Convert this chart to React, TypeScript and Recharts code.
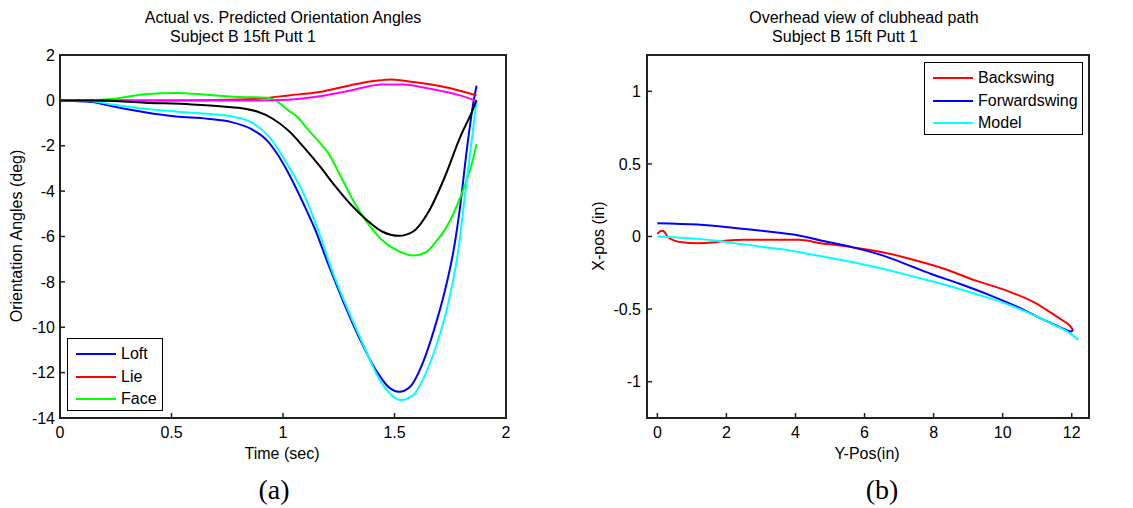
import { LineChart, Line, XAxis, YAxis, Legend } from "recharts";

const FONT = "'Liberation Sans', Arial, Helvetica, sans-serif";

// (a) orientation angles: [time (sec), angle (deg)]
const loftActual = [
  [0, 0], [0.143, -0.07], [0.24, -0.27], [0.38, -0.52], [0.52, -0.71], [0.66, -0.81],
  [0.77, -0.96], [0.857, -1.26], [0.927, -1.75], [0.97, -2.3], [1.024, -3.2], [1.094, -4.6],
  [1.14, -5.6], [1.206, -7.3], [1.276, -9.0], [1.346, -10.55], [1.416, -11.88],
  [1.472, -12.62], [1.521, -12.84], [1.57, -12.62], [1.626, -11.59], [1.682, -9.96],
  [1.724, -8.47], [1.766, -6.55], [1.794, -4.7], [1.824, -2.2], [1.852, -0.2], [1.868, 0.65],
];
const lieActual = [
  [0, 0], [0.5, 0], [0.8, 0.04], [0.884, 0.07], [1.024, 0.22], [1.164, 0.37], [1.304, 0.67],
  [1.416, 0.86], [1.486, 0.92], [1.584, 0.81], [1.724, 0.59], [1.868, 0.22],
];
const faceActual = [
  [0, 0], [0.1, 0], [0.24, 0.07], [0.38, 0.27], [0.52, 0.33], [0.66, 0.25], [0.8, 0.15],
  [0.93, 0.12], [0.966, 0], [1.024, -0.44], [1.066, -0.74], [1.11, -1.26], [1.164, -1.85],
  [1.206, -2.37], [1.262, -3.41], [1.325, -4.59], [1.374, -5.33], [1.444, -6.15],
  [1.514, -6.62], [1.584, -6.84], [1.64, -6.7], [1.696, -6.1], [1.738, -5.5], [1.794, -4.3],
  [1.85, -2.67], [1.868, -1.93],
];
const loftModel = [
  [0, 0], [0.12, -0.02], [0.24, -0.19], [0.38, -0.37], [0.52, -0.49], [0.66, -0.59],
  [0.77, -0.71], [0.857, -0.96], [0.94, -1.63], [1.024, -2.89], [1.094, -4.15],
  [1.164, -5.9], [1.22, -7.5], [1.29, -9.2], [1.36, -10.77], [1.43, -12.25],
  [1.486, -12.99], [1.528, -13.21], [1.584, -12.99], [1.64, -12.03], [1.696, -10.55],
  [1.738, -9.07], [1.787, -6.55], [1.824, -3.5], [1.85, -1.48], [1.868, 0],
];
const lieModel = [
  [0, 0], [0.884, 0], [1.024, 0.03], [1.164, 0.18], [1.304, 0.44], [1.444, 0.7],
  [1.54, 0.7], [1.654, 0.52], [1.794, 0.22], [1.868, -0.03],
];
const faceModel = [
  [0, 0], [0.17, 0], [0.38, -0.1], [0.59, -0.18], [0.73, -0.27], [0.83, -0.37],
  [0.884, -0.49], [0.954, -0.81], [1.024, -1.33], [1.094, -2.07], [1.164, -2.89],
  [1.234, -3.78], [1.304, -4.59], [1.374, -5.26], [1.444, -5.78], [1.521, -5.97],
  [1.584, -5.78], [1.654, -4.89], [1.724, -3.41], [1.794, -1.63], [1.85, -0.44], [1.868, 0],
];

// (b) clubhead path: [Y-pos (in), X-pos (in)]
const backswing = [
  [0, 0.018], [0.08, 0.035], [0.16, 0.04], [0.24, 0.02], [0.31, -0.005], [0.71, -0.04],
  [1.16, -0.046], [1.6, -0.041], [2.05, -0.027], [2.5, -0.023], [4.1, -0.023], [4.73, -0.046],
  [5.63, -0.073], [6.52, -0.108], [7.41, -0.16], [8.3, -0.222], [9.2, -0.302], [10.09, -0.371],
  [10.98, -0.462], [11.43, -0.53], [11.75, -0.58], [11.95, -0.615], [12.04, -0.645],
];
const forwardswing = [
  [0, 0.092], [1.16, 0.082], [2.05, 0.064], [2.95, 0.041], [4.1, 0.007], [4.73, -0.027],
  [5.63, -0.073], [6.52, -0.13], [7.41, -0.21], [7.95, -0.26], [8.75, -0.325], [9.64, -0.405],
  [10.54, -0.497], [10.98, -0.55], [11.43, -0.6], [11.8, -0.64], [11.98, -0.655],
  [12.04, -0.645],
];
const pathModel = [
  [0, 0], [1.16, -0.016], [2.05, -0.039], [2.95, -0.069], [3.84, -0.096], [4.73, -0.135],
  [5.63, -0.176], [6.52, -0.222], [7.41, -0.275], [8.3, -0.33], [9.2, -0.394], [10.09, -0.462],
  [10.98, -0.55], [11.5, -0.61], [11.95, -0.667], [12.2, -0.713],
];

const timeTicks = [0, 0.5, 1, 1.5, 2];
const angleTicks = [2, 0, -2, -4, -6, -8, -10, -12, -14];
const yPosTicks = [0, 2, 4, 6, 8, 10, 12];
const xPosTicks = [1, 0.5, 0, -0.5, -1];

const anglesLegend = ["Loft", "Lie", "Face"];
const pathLegend = ["Backswing", "Forwardswing", "Model"];

const toPoints = (pts: number[][]) => pts.map(([a, b]) => ({ a, b }));

const tickStyle = { fill: "#000", fontSize: 16, fontFamily: FONT };
const tickLineStyle = { stroke: "#222", strokeWidth: 1.5 };

function BoxLegend({ payload, width, order }: any) {
  const items = (payload || [])
    .filter((p: any) => order.includes(p.value))
    .sort((p: any, q: any) => order.indexOf(p.value) - order.indexOf(q.value));
  return (
    <div
      style={{
        boxSizing: "border-box",
        width,
        height: 73,
        border: "1.5px solid #000",
        background: "#fff",
        padding: "4px 0 0 8px",
        fontFamily: FONT,
        fontSize: 16,
        color: "#000",
      }}
    >
      {items.map((p: any) => (
        <div key={p.value} style={{ display: "flex", alignItems: "center", height: 22.5 }}>
          <span style={{ display: "inline-block", width: 40, borderTop: `2px solid ${p.color}`, marginRight: 5 }} />
          <span>{p.value}</span>
        </div>
      ))}
    </div>
  );
}

function Text({ x, y, w = 400, children, size = 16, serif = false }: any) {
  return (
    <div
      style={{
        position: "absolute",
        left: x - w / 2,
        top: y,
        width: w,
        textAlign: "center",
        fontFamily: serif ? "'Liberation Serif', 'Times New Roman', serif" : FONT,
        fontSize: size,
        lineHeight: serif ? "28px" : "20px",
        color: "#000",
        whiteSpace: "nowrap",
      }}
    >
      {children}
    </div>
  );
}

function VText({ x, y, children }: any) {
  return (
    <div
      style={{
        position: "absolute",
        left: x - 150,
        top: y - 10,
        width: 300,
        height: 20,
        lineHeight: "20px",
        textAlign: "center",
        fontFamily: FONT,
        fontSize: 16,
        color: "#000",
        transform: "rotate(-90deg)",
        whiteSpace: "nowrap",
      }}
    >
      {children}
    </div>
  );
}

// plot frame (MATLAB "box on"), drawn over the plot area
function Box({ left, width }: any) {
  return (
    <div
      style={{
        position: "absolute",
        left: left - 1,
        top: 54,
        width: width + 1,
        height: 365,
        boxSizing: "border-box",
        border: "2px solid #222",
        pointerEvents: "none",
      }}
    />
  );
}

function line(data: number[][], name: string, color: string) {
  return (
    <Line
      key={name}
      data={toPoints(data)}
      dataKey="b"
      name={name}
      type="monotone"
      stroke={color}
      strokeWidth={2}
      dot={false}
      activeDot={false}
      isAnimationActive={false}
    />
  );
}

function AnglesChart() {
  return (
    <LineChart width={560} height={508} margin={{ top: 55, right: 54, bottom: 60, left: 0 }}>
      <XAxis type="number" dataKey="a" domain={[0, 2]} ticks={timeTicks} interval={0} allowDataOverflow
        height={30} stroke="#222" strokeWidth={2} tickLine={tickLineStyle} tickSize={-5} tickMargin={14} tick={tickStyle} />
      <YAxis type="number" domain={[-14, 2]} ticks={angleTicks} interval={0} allowDataOverflow
        width={60} stroke="#222" strokeWidth={2} tickLine={tickLineStyle} tickSize={-5} tickMargin={10} tick={tickStyle} />
      {line(loftActual, "Loft", "#0000ff")}
      {line(lieActual, "Lie", "#ff0000")}
      {line(faceActual, "Face", "#00ff00")}
      {line(loftModel, "Loft model", "#00ffff")}
      {line(lieModel, "Lie model", "#ff00ff")}
      {line(faceModel, "Face model", "#000000")}
      <Legend layout="vertical" align="center" verticalAlign="middle"
        wrapperStyle={{ left: 67, top: 338, width: 96, height: 73 }}
        content={(p: any) => <BoxLegend {...p} width={96} order={anglesLegend} />} />
    </LineChart>
  );
}

function PathChart() {
  return (
    <LineChart width={563} height={508} margin={{ top: 55, right: 44, bottom: 60, left: 0 }}>
      <XAxis type="number" dataKey="a" domain={[-0.3, 12.5]} ticks={yPosTicks} interval={0} allowDataOverflow
        height={30} stroke="#222" strokeWidth={2} tickLine={tickLineStyle} tickSize={-5} tickMargin={14} tick={tickStyle} />
      <YAxis type="number" domain={[-1.25, 1.25]} ticks={xPosTicks} interval={0} allowDataOverflow
        width={77} stroke="#222" strokeWidth={2} tickLine={tickLineStyle} tickSize={-5} tickMargin={11} tick={tickStyle} />
      {line(backswing, "Backswing", "#ff0000")}
      {line(forwardswing, "Forwardswing", "#0000ff")}
      {line(pathModel, "Model", "#00ffff")}
      <Legend layout="vertical" align="center" verticalAlign="middle"
        wrapperStyle={{ left: 354, top: 62, width: 159, height: 73 }}
        content={(p: any) => <BoxLegend {...p} width={159} order={pathLegend} />} />
    </LineChart>
  );
}

export default function App() {
  return (
    <div style={{ position: "absolute", left: 0, top: 0, width: 1133, height: 508, background: "#fff", overflow: "hidden" }}>
      <div style={{ position: "absolute", left: 0, top: 0 }}>
        <AnglesChart />
      </div>
      <div style={{ position: "absolute", left: 570, top: 0 }}>
        <PathChart />
      </div>
      <Box left={60} width={447} />
      <Box left={647} width={443} />
      <Text x={283} y={8}>Actual vs. Predicted Orientation Angles</Text>
      <Text x={243} y={27}>Subject B 15ft Putt 1</Text>
      <Text x={864} y={8}>Overhead view of clubhead path</Text>
      <Text x={845} y={27}>Subject B 15ft Putt 1</Text>
      <Text x={282} y={444}>Time (sec)</Text>
      <Text x={867} y={444}>Y-Pos(in)</Text>
      <VText x={16.5} y={236}>Orientation Angles (deg)</VText>
      <VText x={598.5} y={236}>X-pos (in)</VText>
      <Text x={274} y={476} size={28} serif>(a)</Text>
      <Text x={882} y={476} size={28} serif>(b)</Text>
    </div>
  );
}
